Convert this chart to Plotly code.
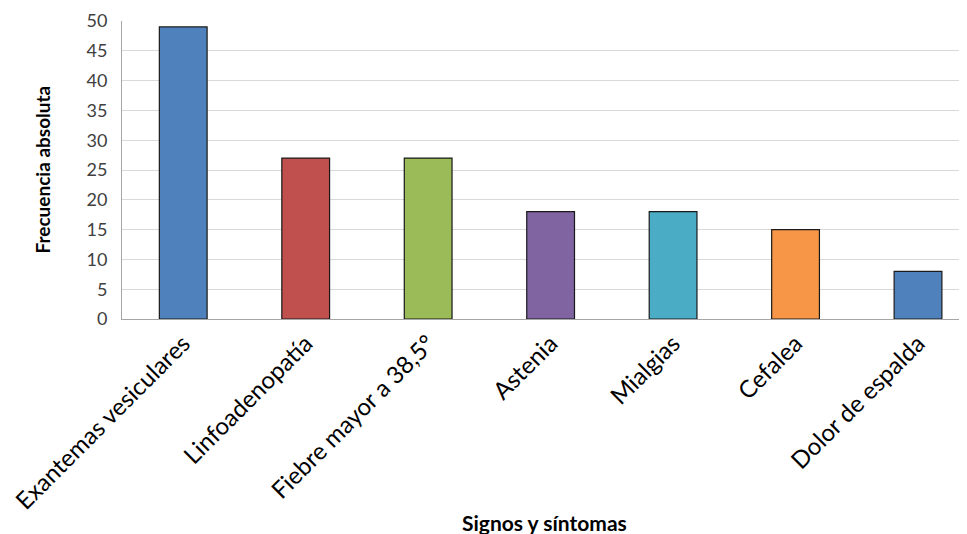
import plotly.graph_objects as go

categories = ["Exantemas vesiculares", "Linfoadenopatía", "Fiebre mayor a 38,5°",
              "Astenia", "Mialgias", "Cefalea", "Dolor de espalda"]
values = [49, 27, 27, 18, 18, 15, 8]
colors = ["#4F81BD", "#C0504D", "#9BBB59", "#8064A2", "#4BACC6", "#F79646", "#4F81BD"]
y_ticks = [0, 5, 10, 15, 20, 25, 30, 35, 40, 45, 50]

fig = go.Figure(go.Bar(
    x=categories, y=values, width=0.39,
    marker=dict(color=colors, line=dict(color="#1a1a1a", width=1.2)),
))

font_family = "Lato, sans-serif"
fig.update_layout(
    width=959, height=526,
    margin=dict(l=114, r=0, t=13, b=215),
    plot_bgcolor="white", paper_bgcolor="white",
    showlegend=False,
    font=dict(family=font_family, color="#000000"),
    xaxis=dict(
        range=[-0.5, 6.4], tickangle=-45, tickfont=dict(size=24, color="#000000"),
        showline=True, linecolor="#A6A6A6", linewidth=1, showgrid=False,
        ticks="", automargin=False,
    ),
    yaxis=dict(
        range=[0, 50], tickvals=y_ticks, tickfont=dict(size=18, color="#404040"),
        showgrid=True, gridcolor="#D9D9D9", gridwidth=1,
        showline=True, linecolor="#A6A6A6", linewidth=1, zeroline=False,
        ticks="", ticklabelstandoff=10, automargin=False,
    ),
    annotations=[
        dict(text="<b>Signos y síntomas</b>", x=0.5, y=0, xref="paper", yref="paper",
             yshift=-218, showarrow=False, font=dict(size=21)),
        dict(text="<b>Frecuencia absoluta</b>", x=0, y=0.5, xref="paper", yref="paper",
             xshift=-94, textangle=-90, showarrow=False, font=dict(size=19)),
    ],
)

fig.write_html("out.html")
